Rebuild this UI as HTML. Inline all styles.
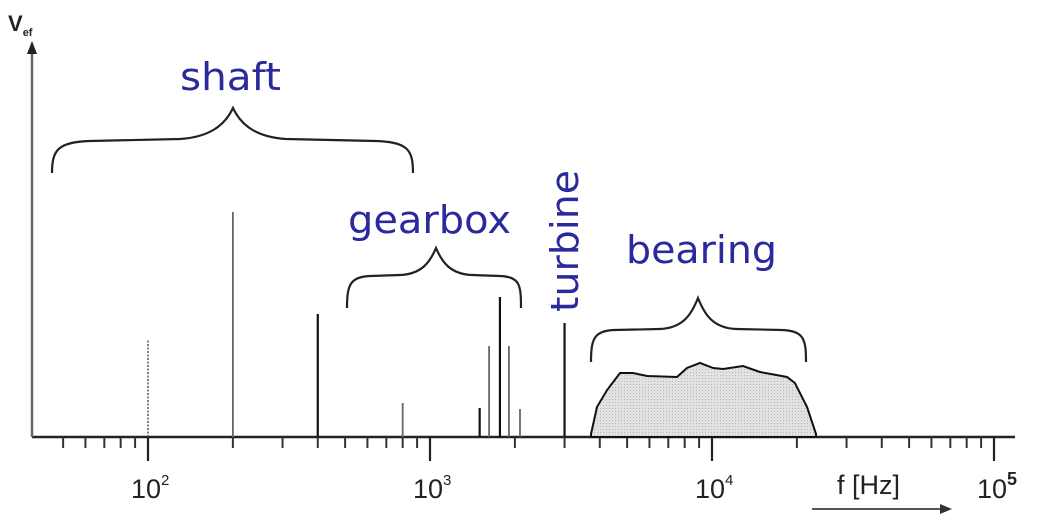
<!DOCTYPE html>
<html><head><meta charset="utf-8"><style>
html,body{margin:0;padding:0;background:#fff;}
svg{display:block;}
.lbl{font-family:"DejaVu Sans","Liberation Sans",sans-serif;fill:#2a2a9c;font-size:38px;}
.tk{font-family:"Liberation Sans",sans-serif;fill:#222;font-size:27px;}
</style></head><body>
<svg id="chart" width="1042" height="517" viewBox="0 0 1042 517" xmlns="http://www.w3.org/2000/svg">
<defs>
<pattern id="dots" width="3" height="3" patternUnits="userSpaceOnUse"><rect width="3" height="3" fill="#e2e2e2"/><rect width="1" height="1" fill="#b8b8b8"/></pattern>
</defs>
<g id="axes">
<line x1="32" y1="437" x2="1015" y2="437" stroke="#222" stroke-width="2.5"/>
<line x1="32" y1="437" x2="32" y2="52" stroke="#666" stroke-width="2.5"/>
<polygon points="27,54 37,54 32,41" fill="#222"/>
<text x="8" y="31" font-family="Liberation Sans,sans-serif" font-weight="bold" font-size="22" fill="#222">V<tspan font-size="11" dy="5">ef</tspan></text>
<text x="837" y="494" class="tk">f [Hz]</text>
<line x1="812" y1="509" x2="942" y2="509" stroke="#555" stroke-width="2"/>
<polygon points="940,504 952,509 940,514" fill="#333"/>
</g>
<g id="ticks"></g>
<g id="marks"></g>
<g id="braces" fill="none" stroke="#222" stroke-width="2.2">
<path d="M52,173 C52,150 58,142 90,141 L180,139 C210,137 225,125 233,108 C241,125 256,137 286,139 L376,141 C408,142 413,150 413,173"/>
<path d="M347,308 C347,285 350,277 370,276 L400,275 C422,274 430,262 436,248 C442,262 450,274 472,275 L500,276 C520,277 521,285 521,308"/>
<path d="M591,362 C591,339 594,331 614,330 L660,329 C684,328 692,313 698,298 C704,313 712,328 736,329 L782,330 C804,331 806,339 806,362"/>
</g>
<text class="lbl" x="180" y="90" textLength="101" lengthAdjust="spacingAndGlyphs">shaft</text>
<text class="lbl" x="348" y="233" textLength="163" lengthAdjust="spacingAndGlyphs">gearbox</text>
<text class="lbl" transform="translate(578,312) rotate(-90)" x="0" y="0" textLength="142" lengthAdjust="spacingAndGlyphs">turbine</text>
<text class="lbl" x="626" y="263" textLength="151" lengthAdjust="spacingAndGlyphs">bearing</text>
</svg>
<script>
const lineFreqs = [100, 200, 400, 800, 1500, 1620, 1770, 1905, 2085, 3000];
const lineAmps = [97, 225, 123, 34, 29, 91, 140, 91, 28, 114];
const lineStyles = ['dotted','grey','dark','grey','dark','grey','dark','grey','grey','dark'];
const bandFreqs = [3724, 3909, 4246, 4720, 5245, 5888, 7516, 8150, 9064, 10100, 10950, 12880, 14790, 18450, 19680, 21730, 23380];
const bandAmps = [3, 30, 47, 64, 64, 61, 60, 69, 74, 69, 68, 71, 65, 60, 54, 30, 3];
const decades = [2, 3, 4, 5];
const tickLabels = ['10', '10', '10', '10'];
const tickExps = ['2', '3', '4', '5'];

const NS = 'http://www.w3.org/2000/svg';
function xs(f){ return 148 + 282 * (Math.log10(f) - 2); }
function ys(v){ return 437 - v; }
function mk(tag, attrs, parent){ const e=document.createElementNS(NS,tag); for(const k in attrs) e.setAttribute(k,attrs[k]); parent.appendChild(e); return e; }

const ticks = document.getElementById('ticks');
for (let d = 1; d <= 4; d++) {
  for (let m = 2; m <= 9; m++) {
    const f = m * Math.pow(10, d);
    const x = xs(f);
    if (x < 40 || x > 1012) continue;
    const t = mk('line', {x1:x, y1:437, x2:x, y2:448, stroke:'#333', 'stroke-width':2}, ticks);
    
    
  }
}
decades.forEach((d, i) => {
  const x = xs(Math.pow(10, d));
  const t = mk('line', {x1:x, y1:437, x2:x, y2:461, stroke:'#222', 'stroke-width':2.2}, ticks);
  
  
  const tx = mk('text', {x:x - 17, y:498, 'class':'tk'}, ticks);
  
  
  tx.textContent = tickLabels[i];
  const sp = document.createElementNS(NS, 'tspan');
  sp.setAttribute('font-size', '15'); sp.setAttribute('dy', '-13');
  if (i === 3) { sp.setAttribute('font-weight', 'bold'); sp.setAttribute('font-size', '18'); }
  sp.textContent = tickExps[i];
  tx.appendChild(sp);
});

const marks = document.getElementById('marks');
const band = bandFreqs.map((f, i) => xs(f) + ',' + ys(bandAmps[i])).join(' ');
const poly = mk('polygon', {points: band + ' ' + xs(bandFreqs[bandFreqs.length-1]) + ',437 ' + xs(bandFreqs[0]) + ',437', fill:'url(#dots)', stroke:'#111', 'stroke-width':2}, marks);



lineFreqs.forEach((f, i) => {
  const x = xs(f);
  const st = lineStyles[i];
  const a = {x1:x, y1:437, x2:x, y2:ys(lineAmps[i]), stroke: st==='dark' ? '#111' : '#666', 'stroke-width': st==='dark' ? 2.2 : 1.8};
  if (st === 'dotted') { a['stroke-dasharray'] = '2,1.5'; a.stroke = '#555'; a['stroke-width'] = 1.5; }
  const l = mk('line', a, marks);
  
  
});
</script>
</body></html>
